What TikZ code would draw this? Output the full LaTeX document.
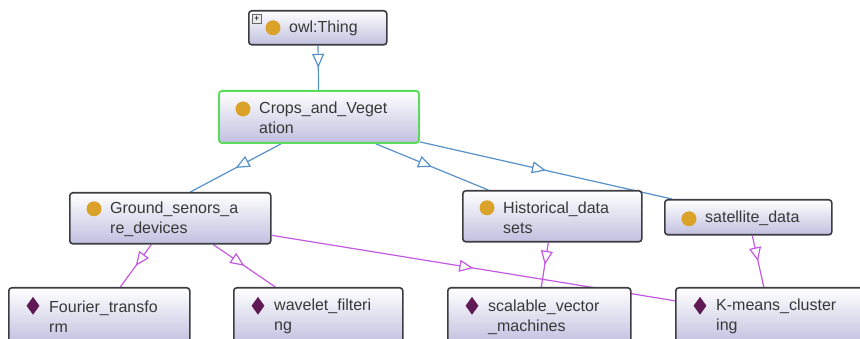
\documentclass[tikz,border=0pt]{standalone}
\usepackage{fontspec}
\setmainfont{Liberation Sans}
\usetikzlibrary{arrows.meta, shapes.geometric, decorations.markings, backgrounds}
\definecolor{isablue}{RGB}{85, 145, 200}
\definecolor{isapurple}{RGB}{195, 90, 225}
\definecolor{boxedge}{RGB}{60, 60, 65}
\definecolor{boxlav}{RGB}{192, 192, 224}
\definecolor{clsgold}{RGB}{218, 162, 40}
\definecolor{indpurple}{RGB}{95, 25, 85}
\definecolor{focusgreen}{RGB}{90, 220, 90}

\begin{document}
\begin{tikzpicture}[x=1pt, y=-1pt, font=\fontsize{16}{20}\selectfont,
    box/.style={draw=boxedge, line width=1.6pt, rounded corners=3pt,
      top color=white, bottom color=boxlav, anchor=north west, inner sep=0pt},
    focus/.style={box, draw=focusgreen, line width=1.9pt},
    clsdot/.style={circle, fill=clsgold, minimum size=15pt, inner sep=0pt},
    inddot/.style={diamond, fill=indpurple, aspect=0.7, minimum width=13pt,
      minimum height=18pt, inner sep=0pt},
    lbl/.style={anchor=west, align=left, inner sep=0pt, text=black!78},
    isa/.style={line width=1.2pt, postaction={decorate},
      decoration={markings, mark=at position 0.5 with
        {\arrow{Triangle[length=14pt, width=12pt, fill=white]}}}}]

  \useasboundingbox (0,0) rectangle (860,339);
  \clip (0,0) rectangle (860,339);

  % Boxes (classes and individuals)
  \foreach \nm/\st/\x/\y/\w/\h in {thing/box/248/10/138/34, crops/focus/218/90/200/52,
      ground/box/69/192/201/51, hist/box/462/190/179/51, sat/box/664/199/167/35,
      fourier/box/8/287/181/56, wavelet/box/233/287/169/56,
      svm/box/447/287/183/56, kmeans/box/675/287/190/56}{
    \node[\st, minimum width=\w pt, minimum height=\h pt] (\nm) at (\x,\y) {};
  }

  % Icons and names
  \foreach \nm/\ic/\dy/\txt in {thing/clsdot/0/{owl:Thing},
      crops/clsdot/8/{Crops\_and\_Veget\\ation},
      ground/clsdot/9.5/{Ground\_senors\_a\\re\_devices},
      hist/clsdot/8.5/{Historical\_data\\sets},
      sat/clsdot/-1.5/{satellite\_data},
      fourier/inddot/10/{Fourier\_transfo\\rm},
      wavelet/inddot/10/{wavelet\_filteri\\ng},
      svm/inddot/10/{scalable\_vector\\\_machines},
      kmeans/inddot/10/{K-means\_cluster\\ing}}{
    \node[\ic] (\nm-icon) at ([xshift=25pt, yshift=\dy pt]\nm.west) {};
    \node[lbl] (\nm-text) at ([xshift=41pt, yshift=-1pt]\nm.west) {\txt};
  }

  % expand button
  \node[draw=black!60, fill=black!8, minimum size=9pt, inner sep=0pt, anchor=north west,
    font=\fontsize{9}{9}\selectfont] (thing-plus) at ([xshift=4pt, yshift=-4pt]thing.north west) {+};

  % Subclass and type links
  \begin{pgfonlayer}{background}
    \draw[isa, isablue] (thing) -- (crops);
    \draw[isa, isablue] ([xshift=-38pt]crops.south) -- ([xshift=20pt]ground.north);
    \draw[isa, isablue] ([xshift=57pt]crops.south) -- ([xshift=-64pt]hist.north);
    \draw[isa, isablue] ([yshift=2pt]crops.south east) -- ([xshift=8pt]sat.north west);
    \draw[isa, isapurple] ([xshift=-19pt]ground.south) -- ([xshift=21pt]fourier.north);
    \draw[isa, isapurple] ([xshift=43pt]ground.south) -- ([xshift=-43pt]wavelet.north);
    \draw[isa, isapurple] ([yshift=-17pt]ground.east) -- ([yshift=15pt]kmeans.west);
    \draw[isa, isapurple] ([xshift=-4pt]hist.south) -- ([xshift=2pt]svm.north);
    \draw[isa, isapurple] ([xshift=4pt]sat.south) -- ([xshift=-7pt]kmeans.north);
  \end{pgfonlayer}
\end{tikzpicture}
\end{document}
